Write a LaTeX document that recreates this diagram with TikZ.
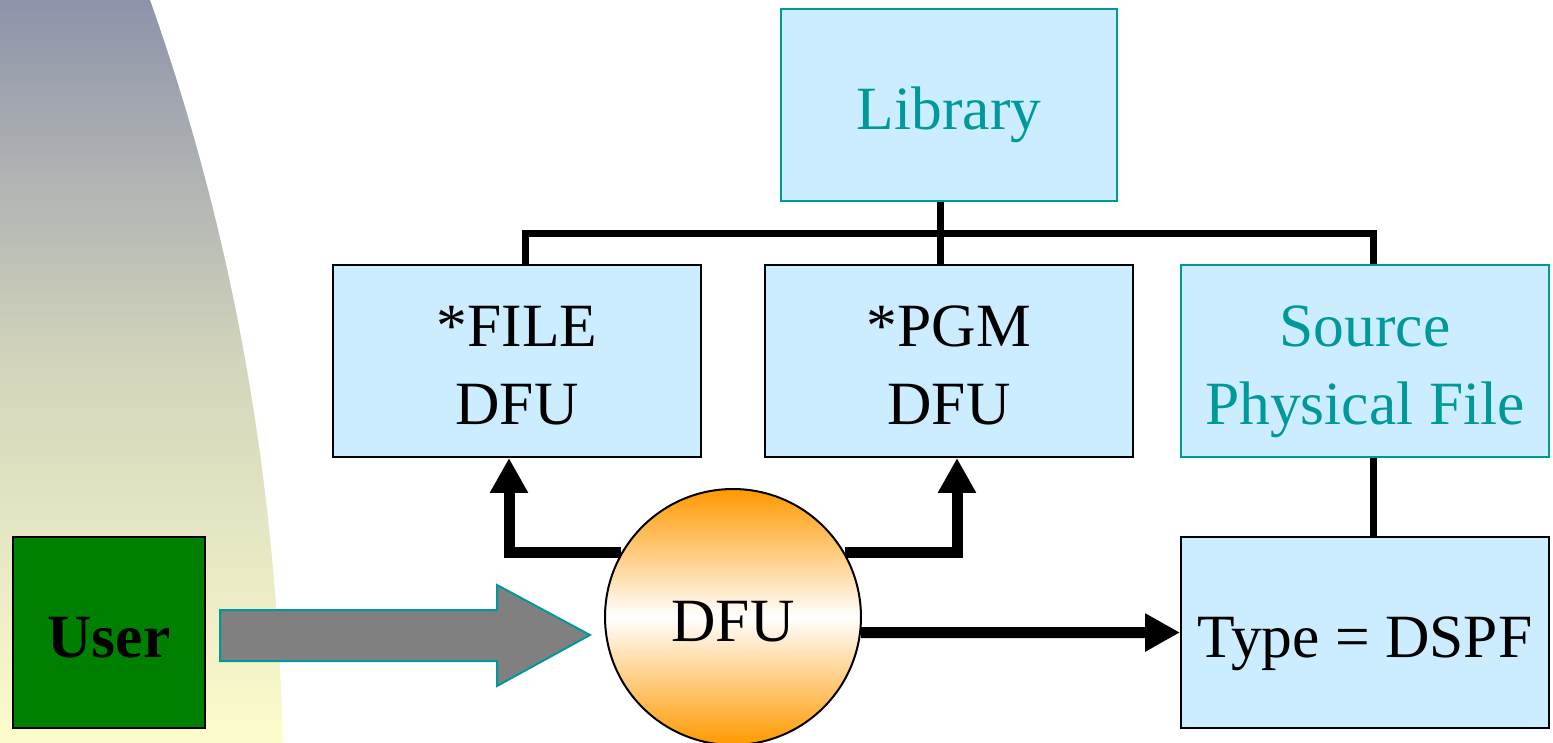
\documentclass[tikz,border=0pt]{standalone}
\usepackage{fontspec}
\setmainfont{Liberation Serif}
\usepackage{tikz}
\usetikzlibrary{arrows.meta,positioning,calc}
\definecolor{boxblue}{RGB}{204,236,255}
\definecolor{tealline}{RGB}{0,153,153}
\definecolor{userg}{RGB}{0,128,0}
\definecolor{dfuorange}{RGB}{255,153,0}
\definecolor{bgtop}{RGB}{142,147,170}
\definecolor{bgmid}{RGB}{212,214,188}
\definecolor{bgbot}{RGB}{252,252,204}
\tikzset{
    bigtext/.style={font=\fontsize{35}{44}\selectfont,align=center},
    oneline/.style={text height=36pt,text depth=8pt},
    twoline/.style={text height=80pt,text depth=8pt},
    box/.style={rectangle,draw,fill=boxblue,line width=0.04cm,minimum width=7.36cm,minimum height=3.84cm,inner sep=0pt,bigtext},
    tealbox/.style={box,draw=tealline,text=tealline},
    tree/.style={line width=0.14cm},
    flow/.style={line width=0.22cm,-{Triangle[length=0.7cm,width=0.72cm]}},
}

\begin{document}
\begin{tikzpicture}[x=0.02cm,y=-0.02cm]
        \useasboundingbox (0,0) rectangle (1553,743);
        % background
        \shade[top color=bgtop,bottom color=bgbot,middle color=bgmid]
            (0,0) -- (150,0) .. controls (235,240) and (276,480) .. (283,743) -- (0,743) -- cycle;

        \node[tealbox,oneline,minimum width=6.72cm] (lib) at (949,105) {Library};
        \node[box,twoline] (file) at (517,361) {*FILE\\DFU};
        \node[box,twoline] (pgm) at (949,361) {*PGM\\DFU};
        \node[tealbox,twoline] (src) at (1365,361) {Source\\Physical File};
        \node[box,oneline,minimum height=3.82cm] (dspf) at (1365,632.5) {Type = DSPF};
        \node[rectangle,draw,fill=userg,line width=0.04cm,minimum width=3.84cm,minimum height=3.82cm,
              bigtext,oneline,font=\fontsize{35}{44}\selectfont\bfseries] (user) at (109,632.5) {User};
        \node[circle,draw,line width=0.04cm,minimum size=5.12cm,inner sep=0pt,
              top color=dfuorange,bottom color=dfuorange,middle color=white,bigtext,oneline] (dfu) at (733,617) {DFU};

        \coordinate (bar) at (940,234);

        % library tree
        \draw[tree] ([xshift=-0.18cm]lib.south) -- ([xshift=-0.18cm]pgm.north);
        \draw[tree] ([xshift=0.16cm]file.north) |- (bar) -| ([xshift=0.16cm]src.north);
        \draw[tree] ([xshift=0.16cm]src.south) -- ([xshift=0.16cm]dspf.north);

        % user input
        \filldraw[fill=gray,draw=tealline,line width=0.04cm]
            (220,610) -- (497,610) -- (497,585) -- (590,635) -- (497,686) -- (497,661) -- (220,661) -- cycle;

        % dfu outputs
        \draw[flow] (dfu.150) -| ([xshift=-0.16cm]file.south);
        \draw[flow] (dfu.30) -| ([xshift=0.16cm]pgm.south);
        \draw[flow] (dfu.-7) -- (dspf.west);
\end{tikzpicture}
\end{document}
